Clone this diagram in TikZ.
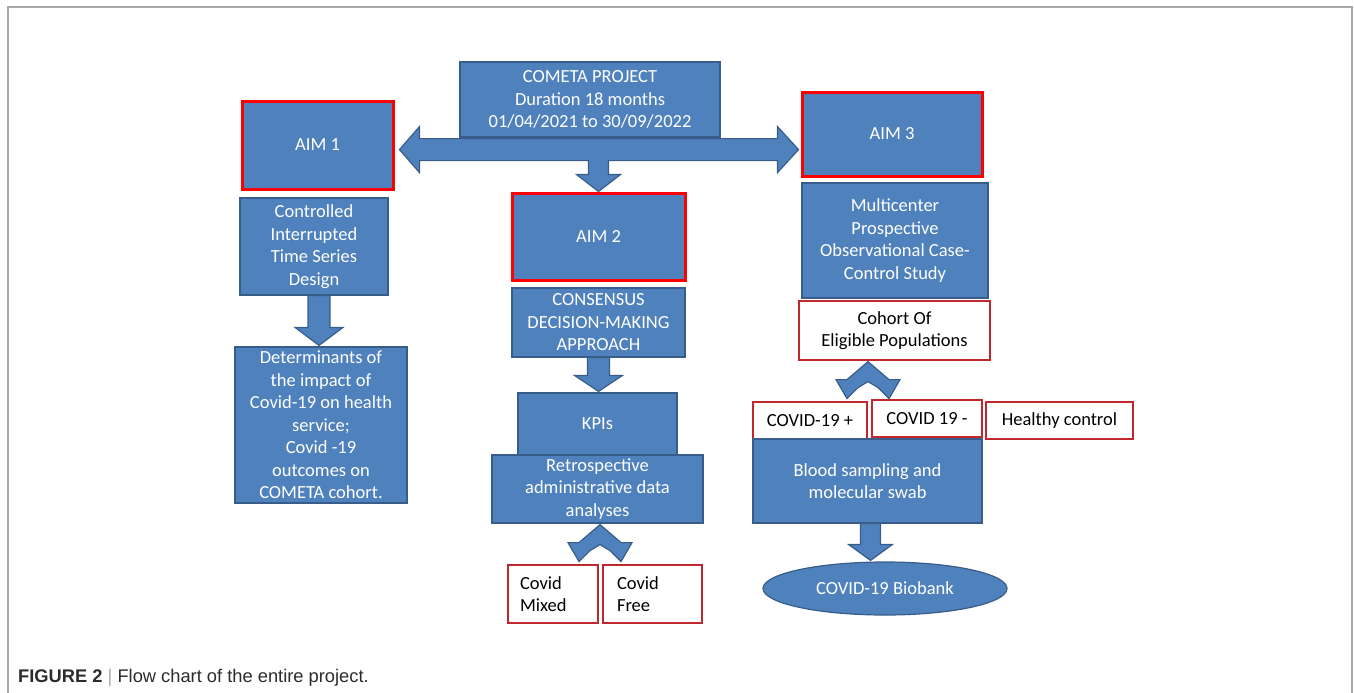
\documentclass[tikz,border=0pt]{standalone}
\usepackage{fontspec}
\newfontfamily\boxfont{Carlito}
\newfontfamily\capfont{Liberation Sans}
\usetikzlibrary{backgrounds, calc, shapes.geometric}

\definecolor{boxblue}{HTML}{4F81BD}
\definecolor{boxline}{HTML}{385D8A}
\definecolor{aimred}{HTML}{FF0000}
\definecolor{thinred}{HTML}{C0282D}
\definecolor{framegray}{HTML}{A8A8A8}
\definecolor{captext}{HTML}{2B2B2B}

% block arrow pointing down: from #1 to #2, shaft/head half widths #3 #4, head length #5
\newcommand{\vblock}[5]{%
  \draw[barrow] let \p1=#1, \p2=#2 in
    (\x1-#3,\y1) -- (\x1-#3,\y2+#5) -- (\x1-#4,\y2+#5) -- (\x1,\y2)
    -- (\x1+#4,\y2+#5) -- (\x1+#3,\y2+#5) -- (\x1+#3,\y1) -- cycle;}

\tikzset{
  bluebox/.style={draw=boxline, fill=boxblue, line width=1.2pt, text=white,
    align=center, inner sep=0pt, font=\boxfont\fontsize{18.5}{22.5}\selectfont},
  aimbox/.style={bluebox, draw=aimred, line width=3pt},
  whitebox/.style={draw=thinred, line width=1.2pt, fill=white, text=black,
    align=center, inner sep=0pt, font=\boxfont\fontsize{18.5}{22.5}\selectfont},
  barrow/.style={draw=boxline, fill=boxblue, line width=1.2pt, line join=miter},
  splitarrow/.pic={\draw[barrow] (0,0) -- (-21,18) -- (-32,18) -- (-21,37) -- (-10,26)
    -- (0,20) -- (10,26) -- (21,37) -- (32,18) -- (21,18) -- cycle;}
}

\begin{document}
\begin{tikzpicture}[x=1pt, y=-1pt]
  \useasboundingbox (0,0) rectangle (1354,693);
  \draw[framegray, line width=1.5pt] (8,693) |- (1352,7) -- (1352,693);

  \node[bluebox, minimum width=260, minimum height=75] (cometa) at (590,99.5)
    {COMETA PROJECT\\Duration 18 months\\01/04/2021 to 30/09/2022};
  \node[aimbox, minimum width=151, minimum height=88] (aim1) at (317.5,145) {AIM 1};
  \node[aimbox, minimum width=173, minimum height=87] (aim2) at (598.5,236.5) {AIM 2};
  \node[aimbox, minimum width=180, minimum height=84] (aim3) at (892,134) {AIM 3};

  \node[bluebox, minimum width=148, minimum height=97] (design) at (314,246.5)
    {Controlled\\Interrupted\\Time Series\\Design};
  \node[bluebox, minimum width=172, minimum height=156] (determ) at (321,425)
    {Determinants of\\the impact of\\Covid-19 on health\\service;\\Covid -19\\outcomes on\\COMETA cohort.};

  \node[bluebox, minimum width=173, minimum height=69] (consensus) at (598.5,322.5)
    {CONSENSUS\\DECISION-MAKING\\APPROACH};
  \node[bluebox, minimum width=159, minimum height=62] (kpis) at (597.5,424) {KPIs};
  \node[bluebox, minimum width=211, minimum height=68] (retro) at (597.5,489)
    {Retrospective\\administrative data\\analyses};
  \node[whitebox, align=left, text width=66, inner xsep=12, minimum height=58] (mixed)
    at (553,594) {Covid\\Mixed};
  \node[whitebox, align=left, text width=71, inner xsep=14, minimum height=58] (free)
    at (652.5,594) {Covid\\Free};

  \node[bluebox, minimum width=186, minimum height=115] (multi) at (895,240.5)
    {Multicenter\\Prospective\\Observational Case-\\Control Study};
  \node[whitebox, minimum width=191, minimum height=59] (cohort) at (894.5,330.5)
    {Cohort Of\\Eligible Populations};
  \node[whitebox, minimum width=114, minimum height=37] (pos) at (810,420.5) {COVID-19 +};
  \node[whitebox, minimum width=110, minimum height=37] (neg) at (927,418.5) {COVID 19 -};
  \node[whitebox, minimum width=147, minimum height=37] (healthy) at (1059.5,420.5) {Healthy control};
  \node[bluebox, minimum width=229, minimum height=84] (blood) at (867.5,481)
    {Blood sampling and\\molecular swab};
  \node[bluebox, ellipse, minimum width=244, minimum height=53] (biobank) at (885,588.5)
    {COVID-19 Biobank};

  \begin{scope}[on background layer]
    \draw[barrow] let \p1=(aim1.east), \p2=(aim3.west), \p3=(aim2.north),
        \p5=($(cometa.south)+(0,12)$) in
      (\x1+5pt,\y5) -- (\x1+25pt,\y5+23pt) -- (\x1+25pt,\y5+11pt) -- (\x2-23pt,\y5+11pt)
      -- (\x2-23pt,\y5+23pt) -- (\x2-2pt,\y5) -- (\x2-23pt,\y5-23pt) -- (\x2-23pt,\y5-11pt)
      -- (\x3+10pt,\y5-11pt) -- (\x3+10pt,\y3+17pt) -- (\x3+22pt,\y3+17pt) -- (\x3,\y3)
      -- (\x3-22pt,\y3+17pt) -- (\x3-10pt,\y3+17pt) -- (\x3-10pt,\y5-11pt)
      -- (\x1+25pt,\y5-11pt) -- (\x1+25pt,\y5-23pt) -- cycle;
    \vblock{($(design.south)+(5,0)$)}{($(determ.north)+(0,-1)$)}{11pt}{24pt}{18pt}
    \vblock{(consensus.south)}{($(kpis.north)+(0,-1)$)}{11pt}{24pt}{16pt}
    \vblock{($(blood.south)+(3,0)$)}{($(biobank.north)+(0,-1)$)}{10pt}{22pt}{16pt}
  \end{scope}
  \pic at ($(retro.south)+(2.5,1)$) {splitarrow};
  \pic at ($(cohort.south)+(-26.5,1)$) {splitarrow};

  \node[anchor=base west, text=captext, inner sep=0pt,
    font=\capfont\fontsize{18.3}{21}\selectfont] (caption) at (18,682)
    {\textbf{FIGURE 2} \textcolor{framegray}{|} Flow chart of the entire project.};
\end{tikzpicture}
\end{document}
